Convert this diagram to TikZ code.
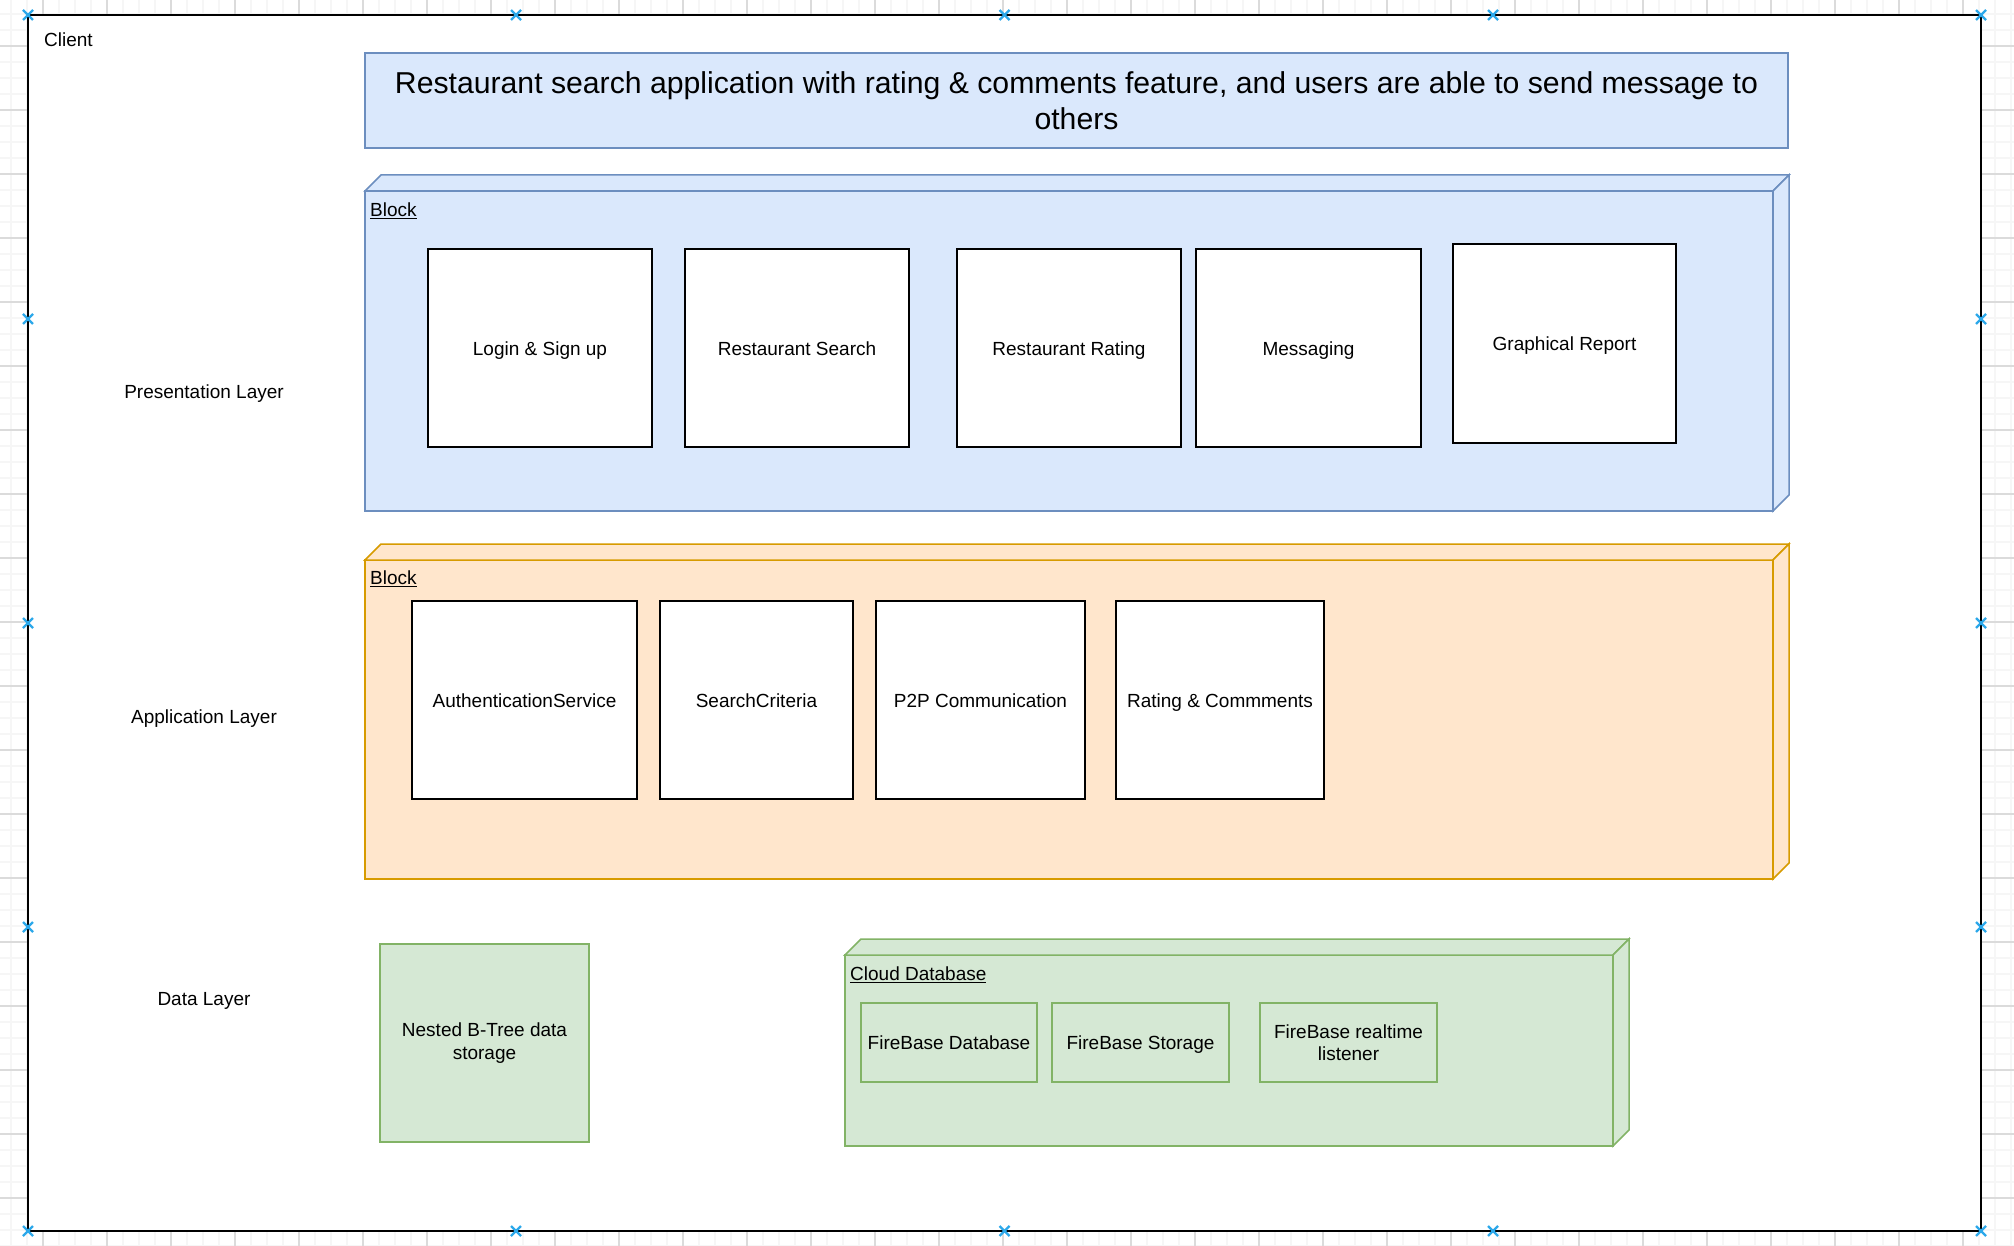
\documentclass[tikz,border=0pt]{standalone}
\usepackage{fontspec}
\setmainfont{Liberation Sans}
\usetikzlibrary{positioning}
\definecolor{blueFill}{HTML}{DAE8FC}
\definecolor{blueLine}{HTML}{6C8EBF}
\definecolor{orangeFill}{HTML}{FFE6CC}
\definecolor{orangeLine}{HTML}{D79B00}
\definecolor{greenFill}{HTML}{D5E8D4}
\definecolor{greenLine}{HTML}{82B366}
\definecolor{handleBlue}{HTML}{2CA8EA}
\newcommand{\txtsize}{\fontsize{19}{22.5}\selectfont}
\newcommand{\ttlsize}{\fontsize{30.2}{36}\selectfont}
\tikzset{
    gridminor/.style={draw=gray!7, line width=1.2pt},
    gridmajor/.style={draw=gray!28, line width=1.2pt},
    frame/.style={draw=black, fill=white, line width=2pt},
    oneline/.style={text height=18.5pt, text depth=4pt},
    unitbox/.style={draw=black, fill=white, line width=1.5pt, font=\txtsize, inner sep=0pt, oneline},
    greenbox/.style={draw=greenLine, fill=greenFill, line width=1.5pt, font=\txtsize, inner sep=0pt, align=center},
    titlebox/.style={draw=blueLine, fill=blueFill, line width=1.5pt, font=\ttlsize, align=center, inner sep=0pt},
    blocklabel/.style={anchor=west, font=\txtsize, inner sep=0pt, oneline},
    layerlabel/.style={font=\txtsize, inner sep=0pt, oneline},
    handle/.style={draw=handleBlue, line width=2.2pt}
}
% box from corner (#3,#4) to corner (#5,#6)
\newcommand{\boxat}[7]{
    \node[#1, minimum width={#5pt-#3pt}, minimum height={#6pt-#4pt}] (#2) at ({(#3+#5)/2}, {(#4+#6)/2}) {#7}
}
% 3d block: style, x1, y1, x2, y2, depth
\newcommand{\cube}[6]{
    \filldraw[#1](#2, #3) rectangle (#4, #5);
    \filldraw[#1](#2, #3)--({#2+#6}, {#3-#6})--({#4+#6}, {#3-#6})--(#4, #3)--cycle;
    \filldraw[#1](#4, #3)--({#4+#6}, {#3-#6})--({#4+#6}, {#5-#6})--(#4, #5)--cycle;
}
\newcommand{\handleat}[2]{
    \draw[handle]({#1-5}, {#2-5})--({#1+5}, {#2+5});
    \draw[handle]({#1-5}, {#2+5})--({#1+5}, {#2-5});
}

\begin{document}
\begin{tikzpicture}[x=1pt, y=-1pt]
    \useasboundingbox(0, 0) rectangle (2014, 1246);
    % grid
    \foreach \x in {11, 27, ..., 2014}
        \draw[gridminor](\x, 0)--(\x, 1246);
    \foreach \y in {14, 30, ..., 1246}
        \draw[gridminor](0, \y)--(2014, \y);
    \foreach \x in {43, 107, ..., 2014}
        \draw[gridmajor](\x, 0)--(\x, 1246);
    \foreach \y in {46, 110, ..., 1246}
        \draw[gridmajor](0, \y)--(2014, \y);
    % client frame
    \filldraw[frame](28, 15) rectangle (1981, 1231);
    \node[anchor=west, font=\txtsize, inner sep=0pt, oneline] (client) at (44, 39) {Client};
    \boxat{titlebox}{title}{365}{53}{1788}{148}{Restaurant search application with rating \& comments feature, and users are able to send message to\\others};

    % presentation layer
    \cube{draw=blueLine, fill=blueFill, line width=1.5pt}{365}{191}{1773}{511}{16}
    \node[blocklabel] (presBlock) at (370, 209) {\underline{Block}};
    \node[layerlabel] (presLayer) at (204, 391) {Presentation Layer};
    \boxat{unitbox}{login}{428}{249}{652}{447}{Login \& Sign up};
    \boxat{unitbox}{search}{685}{249}{909}{447}{Restaurant Search};
    \boxat{unitbox}{rating}{957}{249}{1181}{447}{Restaurant Rating};
    \boxat{unitbox}{messaging}{1196}{249}{1421}{447}{Messaging};
    \boxat{unitbox}{report}{1453}{244}{1676}{443}{Graphical Report};

    % application layer
    \cube{draw=orangeLine, fill=orangeFill, line width=1.5pt}{365}{560}{1773}{879}{16}
    \node[blocklabel] (appBlock) at (370, 577) {\underline{Block}};
    \node[layerlabel] (appLayer) at (204, 716) {Application Layer};
    \boxat{unitbox}{auth}{412}{601}{637}{799}{AuthenticationService};
    \boxat{unitbox}{criteria}{660}{601}{853}{799}{SearchCriteria};
    \boxat{unitbox}{ptp}{876}{601}{1085}{799}{P2P Communication};
    \boxat{unitbox}{comments}{1116}{601}{1324}{799}{Rating \& Commments};

    % data layer
    \node[layerlabel] (dataLayer) at (204, 998) {Data Layer};
    \boxat{greenbox}{btree}{380}{944}{589}{1142}{Nested B-Tree data\\storage};
    \cube{draw=greenLine, fill=greenFill, line width=1.5pt}{845}{955}{1613}{1146}{16}
    \node[blocklabel] (cloud) at (850, 973) {\underline{Cloud Database}};
    \boxat{greenbox, oneline}{fbDatabase}{861}{1003}{1037}{1082}{FireBase Database};
    \boxat{greenbox, oneline}{fbStorage}{1052}{1003}{1229}{1082}{FireBase Storage};
    \boxat{greenbox}{fbListener}{1260}{1003}{1437}{1082}{FireBase realtime\\listener};

    % selection handles
    \foreach \x in {28, 516, 1004.5, 1493, 1981}{
        \handleat{\x}{15}
        \handleat{\x}{1231}
    }
    \foreach \y in {319, 623, 927}{
        \handleat{28}{\y}
        \handleat{1981}{\y}
    }
\end{tikzpicture}
\end{document}
